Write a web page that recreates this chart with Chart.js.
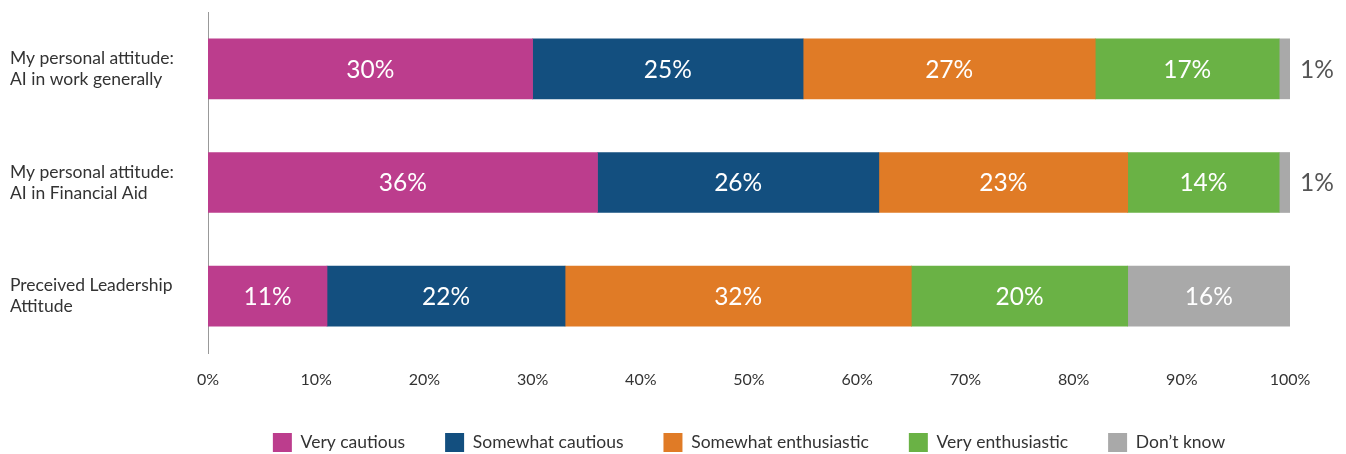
<!DOCTYPE html>
<html>
<head>
<meta charset="utf-8">
<script src="https://cdn.jsdelivr.net/npm/chart.js@4.4.1/dist/chart.umd.min.js"></script>
<style>
  html, body { margin: 0; padding: 0; background: #fff; }
  #wrap { width: 1346px; height: 454px; }
</style>
</head>
<body>
<div id="wrap"><canvas id="c" width="1346" height="454"></canvas></div>
<script>
const categories = [
  ['My personal attitude:', 'AI in work generally'],
  ['My personal attitude:', 'AI in Financial Aid'],
  ['Preceived Leadership', 'Attitude']
];
const seriesNames = ['Very cautious', 'Somewhat cautious', 'Somewhat enthusiastic', 'Very enthusiastic', 'Don\u2019t know'];
const veryCautious = [30, 36, 11];
const somewhatCautious = [25, 26, 22];
const somewhatEnthusiastic = [27, 23, 32];
const veryEnthusiastic = [17, 14, 20];
const dontKnow = [1, 1, 16];
const xTicks = [0, 10, 20, 30, 40, 50, 60, 70, 80, 90, 100];

const colors = ['#BC3D8D', '#134F7F', '#E07B26', '#6AB245', '#A9A9A9'];
const seriesValues = [veryCautious, somewhatCautious, somewhatEnthusiastic, veryEnthusiastic, dontKnow];

const FONT = 'Lato, "Noto Sans", sans-serif';

// Percent labels: white inside each segment, grey outside the bar for tiny segments
const segmentLabels = {
  id: 'segmentLabels',
  afterDatasetsDraw(chart) {
    const ctx = chart.ctx;
    const area = chart.chartArea;
    ctx.save();
    ctx.font = '400 24.5px ' + FONT;
    ctx.textBaseline = 'middle';
    chart.data.datasets.forEach((ds, di) => {
      const meta = chart.getDatasetMeta(di);
      meta.data.forEach((bar, i) => {
        const v = ds.data[i];
        const left = Math.max(Math.min(bar.x, bar.base), area.left);
        const right = Math.min(Math.max(bar.x, bar.base), area.right);
        const text = v + '%';
        if (v < 3) {
          ctx.fillStyle = '#555555';
          ctx.textAlign = 'left';
          ctx.fillText(text, right + 10, bar.y + 1);
        } else {
          ctx.fillStyle = '#ffffff';
          ctx.textAlign = 'center';
          ctx.fillText(text, (left + right) / 2, bar.y + 1);
        }
      });
    });
    ctx.restore();
  }
};

new Chart(document.getElementById('c'), {
  type: 'bar',
  data: {
    labels: categories,
    datasets: seriesNames.map((name, k) => ({
      label: name,
      data: seriesValues[k],
      backgroundColor: colors[k],
      borderWidth: 0,
      barThickness: 60
    }))
  },
  options: {
    indexAxis: 'y',
    responsive: false,
    animation: false,
    layout: { padding: { left: 10, right: 56, top: 12, bottom: -8 } },
    scales: {
      x: {
        stacked: true,
        min: 0,
        max: 100,
        grid: { display: false, drawTicks: false },
        border: { display: false },
        afterBuildTicks(scale) {
          scale.ticks = xTicks.map(v => ({ value: v }));
        },
        afterFit(scale) { scale.height = 40; },
        ticks: {
          padding: 17,
          color: '#333333',
          font: { family: FONT, size: 16 },
          callback: v => v + '%'
        }
      },
      y: {
        stacked: true,
        grid: { display: false, drawTicks: false },
        border: { display: true, color: '#999999', width: 1 },
        afterFit(scale) {
          scale.width = 198;
          scale.paddingTop = 0;
          scale.paddingBottom = 0;
        },
        ticks: {
          crossAlign: 'far',
          padding: 0,
          color: '#333333',
          font: { family: FONT, size: 17.5, lineHeight: 1.2 }
        }
      }
    },
    plugins: {
      legend: {
        position: 'bottom',
        fullSize: false,
        labels: {
          boxWidth: 19,
          boxHeight: 19,
          padding: 40,
          color: '#333333',
          font: { family: FONT, size: 17.5 }
        }
      },
      tooltip: { enabled: false }
    }
  },
  plugins: [segmentLabels]
});
</script>
</body>
</html>
